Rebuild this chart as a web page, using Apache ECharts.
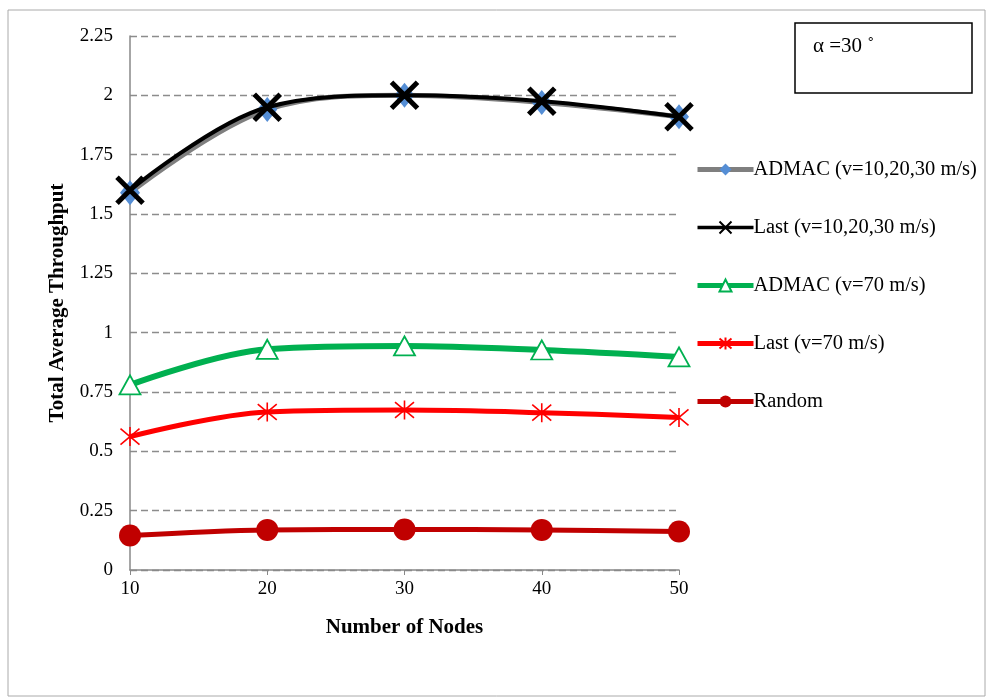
<!DOCTYPE html>
<html><head><meta charset="utf-8">
<script src="https://cdn.jsdelivr.net/npm/echarts@6/dist/echarts.min.js"></script>
<style>html,body{margin:0;padding:0;background:#fff}#c{width:987px;height:698px}</style>
</head><body><div id="c"></div>
<script>
const categories = ['10','20','30','40','50'];
const admacLow = [1.59, 1.94, 2.00, 1.97, 1.91];
const lastLow = [1.60, 1.95, 2.00, 1.975, 1.91];
const admac70 = [0.78, 0.93, 0.944, 0.927, 0.898];
const last70 = [0.562, 0.666, 0.674, 0.663, 0.643];
const randomS = [0.145, 0.169, 0.171, 0.169, 0.162];
const seriesNames = ['ADMAC (v=10,20,30 m/s)','Last (v=10,20,30 m/s)','ADMAC (v=70 m/s)','Last (v=70 m/s)','Random'];
const legendLineWidths = [5, 3.5, 5, 5, 5];

const font = 'Liberation Serif, Times New Roman, serif';
const xPath = 'path://M0,0 L10,10 M10,0 L0,10';
const starPath = 'path://M0,0 L10,10 M10,0 L0,10 M5,-1 L5,11';

const chart = echarts.init(document.getElementById('c'), null, {renderer:'canvas'});
chart.setOption({
  animation:false,
  textStyle:{fontFamily:font},
  grid:{left:130,right:308,top:36,bottom:128},
  xAxis:{type:'category',data:categories,boundaryGap:false,
    axisLine:{lineStyle:{color:'#888',width:1.5}},
    axisTick:{show:true,length:5,lineStyle:{color:'#888'}},
    axisLabel:{color:'#000',fontSize:19,fontFamily:font,margin:10},
    name:'Number of Nodes',nameLocation:'middle',nameGap:47,
    nameTextStyle:{color:'#000',fontSize:21,fontWeight:'bold',fontFamily:font}},
  yAxis:{type:'value',min:0,max:2.25,interval:0.25,
    axisLine:{show:true,lineStyle:{color:'#888',width:1.5}},
    axisTick:{show:false},
    axisLabel:{color:'#000',fontSize:19,fontFamily:font,margin:17,
      formatter:v=>String(Math.round(v*100)/100)},
    splitLine:{lineStyle:{color:'#8c8c8c',type:[7,4],width:1.3}},
    name:'Total Average Throughput',nameLocation:'middle',nameGap:62,
    nameTextStyle:{color:'#000',fontSize:21,fontWeight:'bold',fontFamily:font}},
  legend:{orient:'vertical',left:690,top:154,itemGap:37,itemWidth:56,itemHeight:15,
    textStyle:{fontFamily:font,fontSize:20.5,color:'#000',padding:[0,0,0,-5]},
    data:seriesNames.map((n,i)=>({name:n,lineStyle:{width:legendLineWidths[i]}}))},
  graphic:[
    {type:'rect',shape:{x:8,y:10,width:977,height:686},style:{fill:'none',stroke:'#aaa',lineWidth:1}},
    {type:'rect',shape:{x:795,y:23,width:177,height:70},style:{fill:'#fff',stroke:'#000',lineWidth:1.5}},
    {type:'text',left:813,top:36,style:{text:'α =30 ˚',font:'21px Liberation Serif',fill:'#000'}}
  ],
  series:[
    {name:seriesNames[0],type:'line',data:admacLow,smooth:0.35,symbol:'diamond',symbolSize:[20,25],
      lineStyle:{color:'#7f7f7f',width:5},itemStyle:{color:'#558ED5'},z:2},
    {name:seriesNames[1],type:'line',data:lastLow,smooth:0.35,symbol:xPath,symbolSize:26,
      lineStyle:{color:'#000',width:4},itemStyle:{color:'#000',borderColor:'#000',borderWidth:5},z:3},
    {name:seriesNames[2],type:'line',data:admac70,smooth:0.35,symbol:'triangle',symbolSize:[21,19],
      lineStyle:{color:'#00B050',width:6},itemStyle:{color:'#fff',borderColor:'#00B050',borderWidth:1.8},z:3},
    {name:seriesNames[3],type:'line',data:last70,smooth:0.35,symbol:starPath,symbolSize:19,
      lineStyle:{color:'#FF0000',width:5},itemStyle:{color:'#FF0000',borderColor:'#FF0000',borderWidth:1.6},z:3},
    {name:seriesNames[4],type:'line',data:randomS,smooth:0.35,symbol:'circle',symbolSize:22,
      lineStyle:{color:'#C00000',width:5},itemStyle:{color:'#C00000'},z:3}
  ]
});
</script></body></html>
